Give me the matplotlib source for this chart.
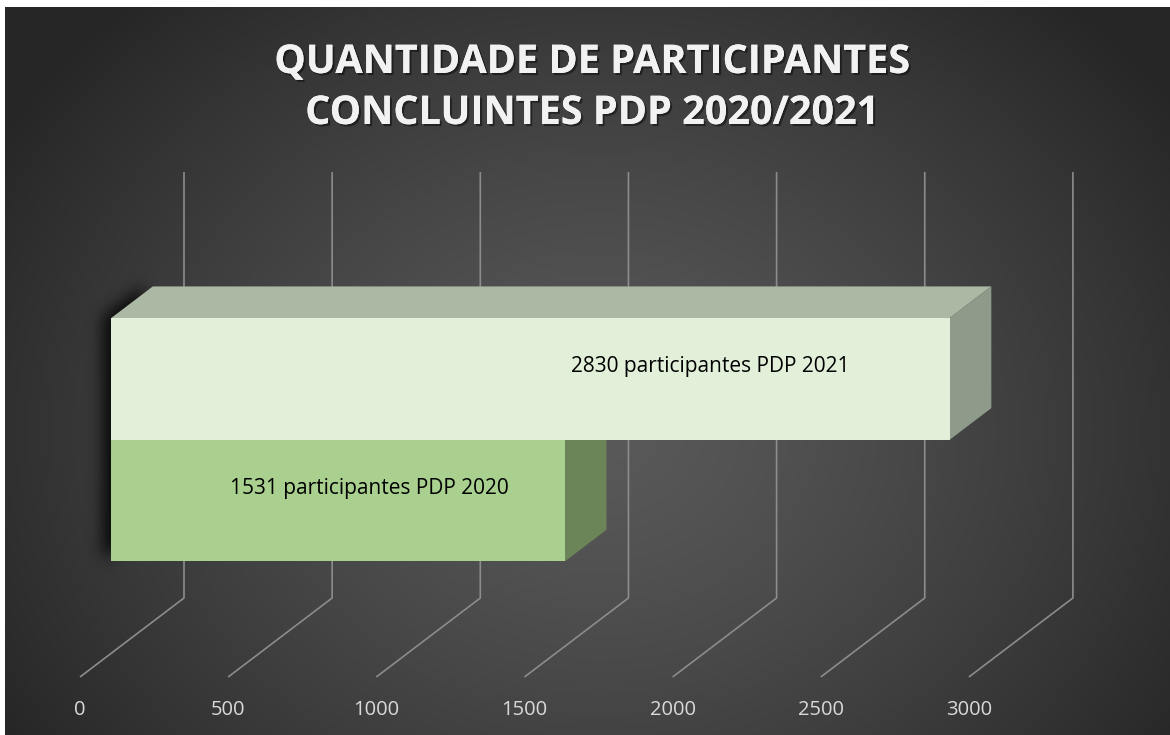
import numpy as np
import matplotlib
matplotlib.use("Agg")
import matplotlib.pyplot as plt
import matplotlib.patheffects as pe
from matplotlib.patches import Polygon
from matplotlib.path import Path

plt.rcParams['font.family'] = ['Open Sans', 'DejaVu Sans']

# data
categories = ['PDP 2020', 'PDP 2021']
values = [1531, 2830]
labels = ['1531 participantes PDP 2020', '2830 participantes PDP 2021']
ticks = [0, 500, 1000, 1500, 2000, 2500, 3000]
title = 'QUANTIDADE DE PARTICIPANTES\nCONCLUINTES PDP 2020/2021'

# colours per bar: front, top, side
front_cols = ['#a9d08e', '#e2efd9']
top_cols = ['#8aa878', '#aab8a4']
side_cols = ['#6b8558', '#8f9b8a']

# 3d layout (value units on x, bar heights on y)
W, H = 1170, 735
px_per_val = 0.2963
px_per_h = 121.7
x0_px, y0_px = 80, 677          # floor front origin in image pixels
DX = 104 / px_per_val           # full depth offset in value units
DY = 79 / px_per_h              # full depth offset in height units
d_front, d_back = 0.3, 0.7      # bar depth span
base = 0.755                    # bottom of first bar
bar_h = 1.0
wall_top = 3.5


def P(v, h, d):
    return (v + d * DX, h + d * DY)


fig = plt.figure(figsize=(W / 100, H / 100), dpi=100)

# background radial gradient
bg = fig.add_axes([0, 0, 1, 1])
yy, xx = np.mgrid[0:H, 0:W]
r = np.sqrt(((xx - 600) / 700.0) ** 2 + ((yy - 430) / 580.0) ** 2)
r = np.clip(r, 0, 1)
c_in, c_out = 0.35, 0.15
shade = c_out + (c_in - c_out) * (1 - r ** 1.3)
img = np.dstack([shade, shade, shade])
img[:7, :, :] = 1.0
img[:, :5, :] = 1.0
bg.imshow(img, extent=(0, W, H, 0), aspect='auto', interpolation='bilinear')
bg.set_xlim(0, W)
bg.set_ylim(H, 0)
bg.axis('off')

ax = fig.add_axes([0, 0, 1, 1])
ax.patch.set_alpha(0)
ax.set_xlim(-x0_px / px_per_val, (W - x0_px) / px_per_val)
ax.set_ylim(-(H - y0_px) / px_per_h, y0_px / px_per_h)
ax.axis('off')

# gridlines: floor diagonal + back wall vertical
grid_col = '#8c8c8c'
for t in ticks:
    xs, ys = zip(P(t, 0, 0), P(t, 0, 1), P(t, wall_top, 1))
    ax.plot(xs, ys, color=grid_col, lw=1.2, solid_capstyle='butt', zorder=1)
    ax.text(t, -0.27, str(t), color='#d9d9d9', fontsize=14.5,
            ha='center', va='center', zorder=2)

# soft shadow at the left side of the bars
top = base + bar_h * len(values)
sil = [P(0, base, d_front), P(0, top, d_front), P(0, top, d_back), P(0, base, d_back)]
shift = -9 / px_per_val
sil = [(a + shift, b) for a, b in sil]
gv = np.arange(-300, 500, 1 / px_per_val)
gh = np.arange(0.3, 3.9, 1 / px_per_h)
GV, GH = np.meshgrid(gv, gh)
inside = Path(sil).contains_points(np.column_stack([GV.ravel(), GH.ravel()]))
mask = inside.reshape(GV.shape).astype(float)
k = np.exp(-0.5 * (np.arange(-24, 25) / 7.5) ** 2)
k /= k.sum()
mask = np.apply_along_axis(lambda m: np.convolve(m, k, mode='same'), 1, mask)
mask = np.apply_along_axis(lambda m: np.convolve(m, k, mode='same'), 0, mask)
shadow = np.zeros(mask.shape + (4,))
shadow[..., 3] = np.clip(mask * 0.85, 0, 1)
ax.imshow(shadow, extent=(gv[0], gv[-1], gh[0], gh[-1]), origin='lower',
          aspect='auto', interpolation='bilinear', zorder=3)

# bars
for i, v in enumerate(values):
    b = base + i * bar_h
    t = b + bar_h
    z = 4 + i
    front = [P(0, b, d_front), P(v, b, d_front), P(v, t, d_front), P(0, t, d_front)]
    topf = [P(0, t, d_front), P(v, t, d_front), P(v, t, d_back), P(0, t, d_back)]
    side = [P(v, b, d_front), P(v, b, d_back), P(v, t, d_back), P(v, t, d_front)]
    ax.add_patch(Polygon(topf, closed=True, fc=top_cols[i], ec='none', zorder=z))
    ax.add_patch(Polygon(side, closed=True, fc=side_cols[i], ec='none', zorder=z))
    ax.add_patch(Polygon(front, closed=True, fc=front_cols[i], ec='none', zorder=z))

label_frac = [0.57, 0.715]
for i, v in enumerate(values):
    b = base + i * bar_h
    lx, ly = P(v * label_frac[i], b + bar_h / 2 + 0.1, d_front)
    ax.text(lx, ly, labels[i], color='black', fontsize=15,
            ha='center', va='center', zorder=10)

fig.text(0.506, 1 - 88 / H, title, color='#f2f2f2', fontsize=28.5, fontweight='bold',
         ha='center', va='center', linespacing=1.4,
         path_effects=[pe.withSimplePatchShadow(offset=(1.5, -1.5), shadow_rgbFace='black', alpha=0.45),
                       pe.Normal()])

fig.savefig('out.png', dpi=100)
